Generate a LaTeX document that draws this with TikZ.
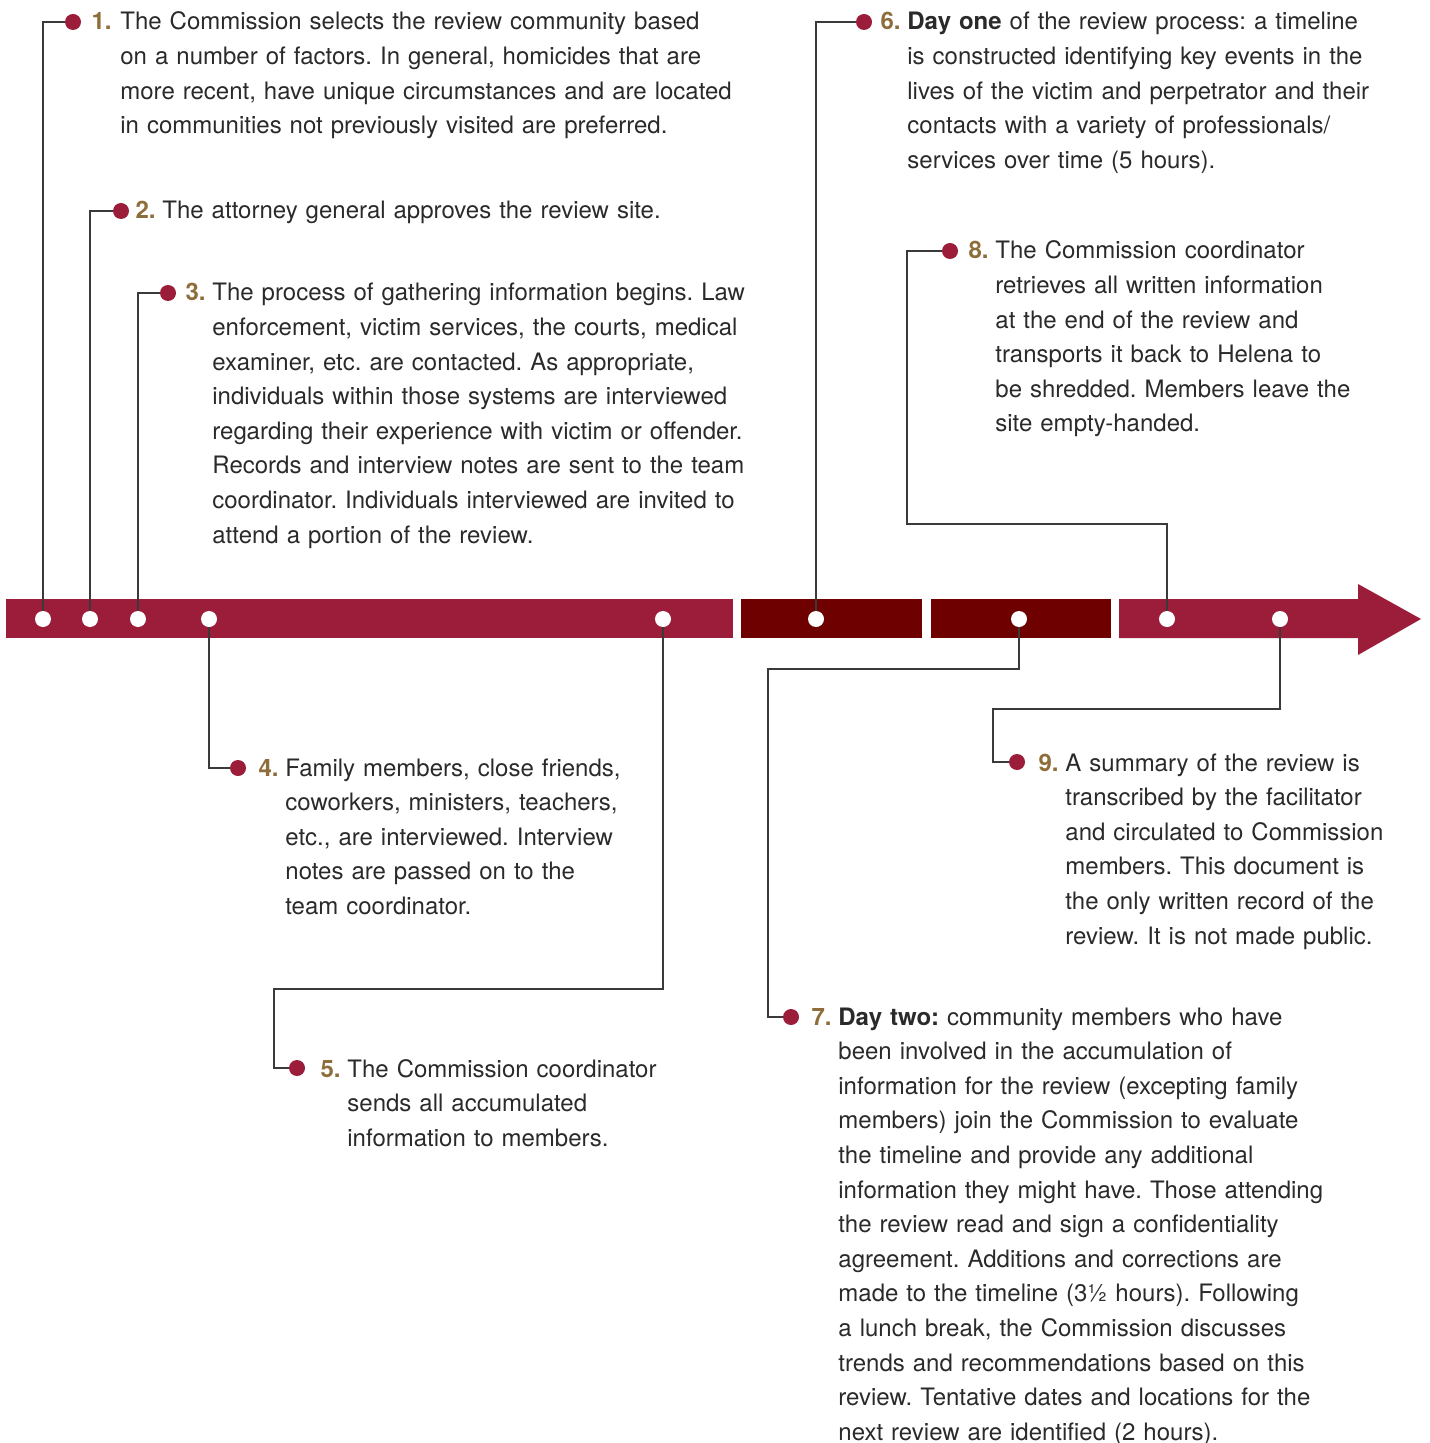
\documentclass[tikz,border=0pt]{standalone}
\usepackage{fontspec}
\setmainfont{TeX Gyre Heros}
\usetikzlibrary{positioning}
\definecolor{crimson}{HTML}{9B1D3A}
\definecolor{wine}{HTML}{6E0000}
\definecolor{gold}{HTML}{8E6D3B}
\definecolor{ink}{HTML}{2A2A2A}
\definecolor{wirec}{HTML}{3A3A3A}
\frenchspacing
\begin{document}
\begin{tikzpicture}[x=0.5pt,y=-0.5pt,
stop/.style={circle,fill=white,inner sep=0pt,minimum size=8pt},
pin/.style={circle,fill=crimson,inner sep=0pt,minimum size=8pt},
num/.style={anchor=base east,inner sep=0pt,text=gold,font=\fontsize{12}{17.3}\selectfont\bfseries},
note/.style={anchor=base west,inner sep=0pt,text=ink,text width=360pt,align=left,font=\fontsize{12}{17.3}\selectfont},
wire/.style={draw=wirec,line width=0.6pt}]
\useasboundingbox (0,0) rectangle (1429,1443);
\fill[crimson] (6,599) rectangle (733,638);
\fill[wine] (741,599) rectangle (922,638);
\fill[wine] (931,599) rectangle (1111,638);
\fill[crimson] (1119,599) -- (1358,599) -- (1358,584) -- (1421,619)
  -- (1358,655) -- (1358,638) -- (1119,638) -- cycle;
\foreach \x/\n in {43/1,90/2,138/3,209/4,663/5,816/6,1019/7,1167/8,1280/9}
  \node[stop] (w\n) at (\x,619) {};
\node[pin] (d1) at (73,22) {};
\node[note] (t1) at (120,30) {The Commission selects the review community based\\
on a number of factors. In general, homicides that are\\
more recent, have unique circumstances and are located\\
in communities not previously visited are preferred.};
\node[num] (n1) at ([xshift=-4pt]t1.base west) {1.};
\node[pin] (d2) at (121,211) {};
\node[note] (t2) at (162,219) {The attorney general approves the review site.};
\node[num] (n2) at ([xshift=-3pt]t2.base west) {2.};
\node[pin] (d3) at (168,293) {};
\node[note] (t3) at (212,301) {The process of gathering information begins. Law\\
enforcement, victim services, the courts, medical\\
examiner, etc. are contacted. As appropriate,\\
individuals within those systems are interviewed\\
regarding their experience with victim or offender.\\
Records and interview notes are sent to the team\\
coordinator. Individuals interviewed are invited to\\
attend a portion of the review.};
\node[num] (n3) at ([xshift=-3pt]t3.base west) {3.};
\node[pin] (d4) at (238,768) {};
\node[note] (t4) at (285,776) {Family members, close friends,\\
coworkers, ministers, teachers,\\
etc., are interviewed. Interview\\
notes are passed on to the\\
team coordinator.};
\node[num] (n4) at ([xshift=-3pt]t4.base west) {4.};
\node[pin] (d5) at (297,1068) {};
\node[note] (t5) at (347,1077) {The Commission coordinator\\
sends all accumulated\\
information to members.};
\node[num] (n5) at ([xshift=-3pt]t5.base west) {5.};
\node[pin] (d6) at (864,22) {};
\node[note] (t6) at (907,30) {\textbf{Day one} of the review process: a timeline\\
is constructed identifying key events in the\\
lives of the victim and perpetrator and their\\
contacts with a variety of professionals/\\
services over time (5 hours).};
\node[num] (n6) at ([xshift=-3pt]t6.base west) {6.};
\node[pin] (d7) at (791,1017) {};
\node[note] (t7) at (838,1025) {\textbf{Day two:} community members who have\\
been involved in the accumulation of\\
information for the review (excepting family\\
members) join the Commission to evaluate\\
the timeline and provide any additional\\
information they might have. Those attending\\
the review read and sign a confidentiality\\
agreement. Additions and corrections are\\
made to the timeline (3½ hours). Following\\
a lunch break, the Commission discusses\\
trends and recommendations based on this\\
review. Tentative dates and locations for the\\
next review are identified (2 hours).};
\node[num] (n7) at ([xshift=-3pt]t7.base west) {7.};
\node[pin] (d8) at (950,251) {};
\node[note] (t8) at (995,259) {The Commission coordinator\\
retrieves all written information\\
at the end of the review and\\
transports it back to Helena to\\
be shredded. Members leave the\\
site empty-handed.};
\node[num] (n8) at ([xshift=-3pt]t8.base west) {8.};
\node[pin] (d9) at (1017,762) {};
\node[note] (t9) at (1065,771) {A summary of the review is\\
transcribed by the facilitator\\
and circulated to Commission\\
members. This document is\\
the only written record of the\\
review. It is not made public.};
\node[num] (n9) at ([xshift=-3pt]t9.base west) {9.};
\coordinate (c5) at (274,989);
\coordinate (c7) at (768,669);
\coordinate (c8) at (907,524);
\coordinate (c9) at (993,709);
\path[wire] (w1) |- (d1) (w2) |- (d2) (w3) |- (d3) (w4) |- (d4) (w6) |- (d6)
  (w5) |- (c5) |- (d5) (w7) |- (c7) |- (d7)
  (w8) |- (c8) |- (d8) (w9) |- (c9) |- (d9);
\end{tikzpicture}
\end{document}
